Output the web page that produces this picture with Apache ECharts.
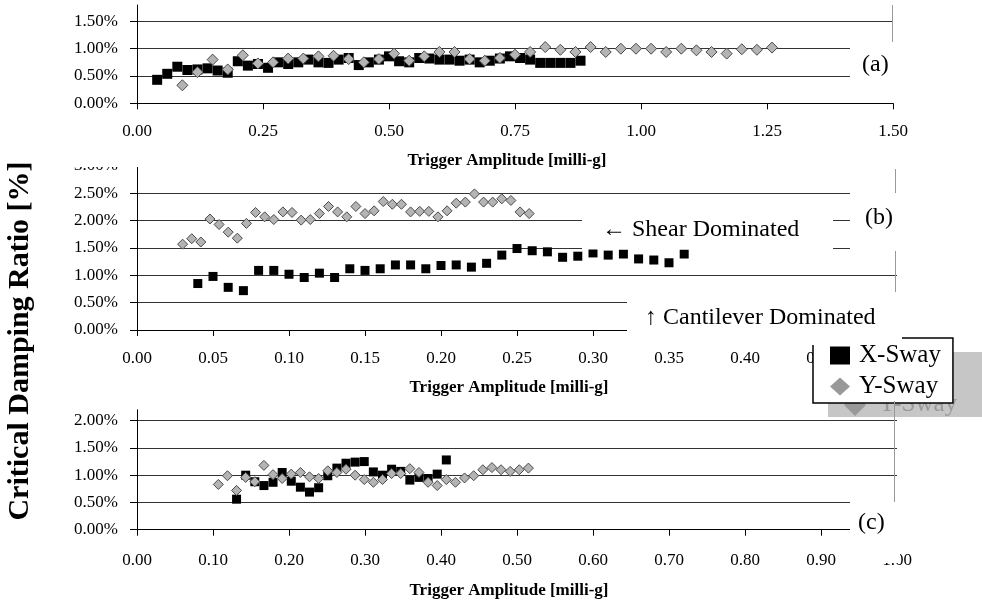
<!DOCTYPE html>
<html>
<head>
    <meta charset="utf-8">
    <title>Critical Damping Ratio</title>
    <script src="https://cdn.jsdelivr.net/npm/echarts@6/dist/echarts.min.js"></script>
    <style>
        html, body { margin: 0; padding: 0; background: #fff; }
    </style>
</head>
<body>
    <div id="main" style="width: 982px;height: 603px;"></div>
    <script type="text/javascript">
// (a) panel
var aXSwayX = [0.04,0.06,0.08,0.10,0.12,0.14,0.16,0.18,0.20,0.22,0.24,0.26,0.28,0.30,0.32,0.34,0.36,0.38,0.40,0.42,0.44,0.46,0.48,0.50,0.52,0.54,0.56,0.58,0.60,0.62,0.64,0.66,0.68,0.70,0.72,0.74,0.76,0.78,0.80,0.82,0.84,0.86,0.88];
var aXSwayY = [0.43,0.54,0.67,0.61,0.62,0.64,0.60,0.56,0.77,0.69,0.72,0.65,0.75,0.72,0.75,0.80,0.75,0.74,0.80,0.83,0.70,0.75,0.80,0.86,0.77,0.75,0.83,0.82,0.80,0.80,0.78,0.80,0.75,0.78,0.82,0.86,0.83,0.80,0.74,0.74,0.74,0.74,0.78];
var aYSwayX = [0.09,0.12,0.15,0.18,0.21,0.24,0.27,0.30,0.33,0.36,0.39,0.42,0.45,0.48,0.51,0.54,0.57,0.60,0.63,0.66,0.69,0.72,0.75,0.78,0.81,0.84,0.87,0.90,0.93,0.96,0.99,1.02,1.05,1.08,1.11,1.14,1.17,1.20,1.23,1.26];
var aYSwayY = [0.33,0.57,0.80,0.62,0.88,0.73,0.75,0.82,0.82,0.86,0.87,0.81,0.75,0.81,0.91,0.78,0.86,0.94,0.94,0.81,0.78,0.83,0.89,0.94,1.03,0.98,0.94,1.03,0.94,1.00,1.00,1.00,0.94,1.00,0.97,0.94,0.91,0.99,0.98,1.02];

// (b) panel
var bXSwayX = [0.04,0.05,0.06,0.07,0.08,0.09,0.10,0.11,0.12,0.13,0.14,0.15,0.16,0.17,0.18,0.19,0.20,0.21,0.22,0.23,0.24,0.25,0.26,0.27,0.28,0.29,0.30,0.31,0.32,0.33,0.34,0.35,0.36];
var bXSwayY = [0.85,0.98,0.78,0.72,1.09,1.09,1.02,0.96,1.04,0.96,1.12,1.09,1.12,1.19,1.19,1.12,1.18,1.19,1.15,1.22,1.37,1.49,1.45,1.43,1.33,1.35,1.41,1.37,1.39,1.30,1.28,1.23,1.39];
var bYSwayX = [0.030,0.036,0.042,0.048,0.054,0.060,0.066,0.072,0.078,0.084,0.090,0.096,0.102,0.108,0.114,0.120,0.126,0.132,0.138,0.144,0.150,0.156,0.162,0.168,0.174,0.180,0.186,0.192,0.198,0.204,0.210,0.216,0.222,0.228,0.234,0.240,0.246,0.252,0.258];
var bYSwayY = [1.57,1.67,1.61,2.03,1.93,1.79,1.68,1.95,2.15,2.07,2.02,2.16,2.15,2.01,2.02,2.13,2.26,2.16,2.07,2.26,2.13,2.18,2.35,2.30,2.30,2.16,2.17,2.17,2.07,2.18,2.32,2.34,2.49,2.34,2.34,2.40,2.37,2.16,2.13];

// (c) panel
var cXSwayX = [0.131,0.143,0.155,0.167,0.179,0.191,0.203,0.215,0.227,0.239,0.251,0.263,0.275,0.287,0.299,0.311,0.323,0.335,0.347,0.359,0.371,0.383,0.395,0.407];
var cXSwayY = [0.56,1.00,0.88,0.81,0.87,1.05,0.89,0.78,0.69,0.77,0.99,1.13,1.22,1.24,1.25,1.06,1.00,1.11,1.07,0.91,0.96,0.94,1.02,1.28];
var cYSwayX = [0.107,0.119,0.131,0.143,0.155,0.167,0.179,0.191,0.203,0.215,0.227,0.239,0.251,0.263,0.275,0.287,0.299,0.311,0.323,0.335,0.347,0.359,0.371,0.383,0.395,0.407,0.419,0.431,0.443,0.455,0.467,0.479,0.491,0.503,0.515];
var cYSwayY = [0.83,0.99,0.72,0.96,0.88,1.18,1.01,0.94,1.02,1.05,0.97,0.94,1.08,1.05,1.11,1.00,0.92,0.87,0.92,1.03,1.03,1.12,1.05,0.87,0.81,0.92,0.87,0.95,0.99,1.10,1.14,1.10,1.07,1.10,1.13];

// axis ranges
var xMax = [1.5, 0.5, 1.0];
var xStep = [0.25, 0.05, 0.1];
var yMax = [1.8, 3.0, 2.2];

var xTitle = 'Trigger Amplitude [milli-g]';
var yTitle = 'Critical Damping Ratio [%]';
var serif = "'Liberation Serif', 'Times New Roman', serif";

var myChart = echarts.init(document.getElementById('main'));

function pairs(xs, ys) {
    return xs.map(function (x, i) { return [x, ys[i]]; });
}

function xAxisFor(i, margin, gap) {
    return {
        gridIndex: i, type: 'value', min: 0, max: xMax[i], interval: xStep[i],
        axisLine: { show: true, lineStyle: { color: '#000', width: 1 } },
        axisTick: { show: true, length: 6, lineStyle: { color: '#000' } },
        axisLabel: {
            margin: margin, color: '#000', fontFamily: serif, fontSize: 17,
            formatter: function (v) { return v.toFixed(2); }
        },
        splitLine: { show: false },
        name: xTitle, nameLocation: 'middle', nameGap: gap,
        nameTextStyle: { fontFamily: serif, fontWeight: 'bold', fontSize: 17, color: '#000', padding: [0, 16, 0, 0] }
    };
}

function yAxisFor(i) {
    return {
        gridIndex: i, type: 'value', min: 0, max: yMax[i], interval: 0.5,
        axisLine: { show: true, lineStyle: { color: '#000', width: 1 } },
        axisTick: { show: true, length: 7, lineStyle: { color: '#000' } },
        axisLabel: {
            margin: 19, color: '#000', fontFamily: serif, fontSize: 17,
            showMaxLabel: i === 1,
            formatter: function (v) { return v.toFixed(2) + '%'; }
        },
        splitLine: { show: true, showMaxLine: false, lineStyle: { color: '#333', width: 1 } }
    };
}

function xSway(i, data, size) {
    return {
        name: 'X-Sway', type: 'scatter', xAxisIndex: i, yAxisIndex: i,
        symbol: 'rect', symbolSize: size, data: data,
        itemStyle: { color: '#000', opacity: 1 }
    };
}

function ySway(i, data, size) {
    return {
        name: 'Y-Sway', type: 'scatter', xAxisIndex: i, yAxisIndex: i,
        symbol: 'diamond', symbolSize: size, data: data,
        itemStyle: { color: '#b4b4b4', borderColor: '#4a4a4a', borderWidth: 1, opacity: 1 }
    };
}

function whiteBox(x, y, w, h) {
    return { type: 'rect', z: 100, shape: { x: x, y: y, width: w, height: h }, style: { fill: '#fff' } };
}
function grayLine(x, y1, y2) {
    return { type: 'line', z: 101, shape: { x1: x, y1: y1, x2: x, y2: y2 }, style: { stroke: '#999', lineWidth: 1 } };
}
function label(text, x, y, size) {
    return { type: 'text', z: 102, x: x, y: y,
        style: { text: text, fill: '#000', font: size + 'px ' + serif, verticalAlign: 'middle' } };
}

myChart.setOption({
    animation: false,
    backgroundColor: '#fff',
    grid: [
        { left: 137, top: 5, width: 756, height: 98.3 },
        { left: 137, top: 166, width: 760, height: 164 },
        { left: 137, top: 409.8, width: 760, height: 119.9 }
    ],
    xAxis: [xAxisFor(0, 20, 49), xAxisFor(1, 20, 49), xAxisFor(2, 22, 52)],
    yAxis: [yAxisFor(0), yAxisFor(1), yAxisFor(2)],
    legend: {
        orient: 'vertical', left: 813, top: 338,
        width: 154, padding: [5, 12, 4, 17], itemGap: 6,
        itemWidth: 20, itemHeight: 18,
        backgroundColor: '#fff', borderColor: '#000', borderWidth: 1.5, borderRadius: 0,
        textStyle: { fontFamily: serif, fontSize: 25, color: '#000', padding: [0, 0, 0, 4] },
        data: [
            { name: 'X-Sway', icon: 'rect', itemStyle: { color: '#000', borderWidth: 0 } },
            { name: 'Y-Sway', icon: 'diamond', itemStyle: { color: '#999', borderWidth: 0 } }
        ]
    },
    graphic: [
        // y axis title
        { type: 'text', z: 102, x: 20, y: 341, rotation: Math.PI / 2,
          style: { text: yTitle, fill: '#000', font: 'bold 30px ' + serif, align: 'center', verticalAlign: 'middle' } },
        // (a)
        whiteBox(850, 42, 50, 59),
        grayLine(892.5, 5, 42),
        label('(a)', 862, 65, 24),
        // top of (b) cut off
        whiteBox(40, 146, 101, 21),
        // (b)
        whiteBox(582, 205, 251, 44.5),
        label('\u2190 Shear Dominated', 602, 230, 24),
        whiteBox(850, 188, 50, 85),
        grayLine(895.5, 169, 193),
        grayLine(895.5, 251, 292),
        label('(b)', 865, 218, 24),
        whiteBox(627, 293, 275, 52),
        label('\u2191 Cantilever Dominated', 645, 318, 24),
        // (c)
        whiteBox(850, 495, 50, 68),
        grayLine(894.5, 401, 502),
        label('(c)', 858, 523, 24),
        // legend shadow with ghost text
        { type: 'rect', z: 3, shape: { x: 828, y: 352, width: 154, height: 65 }, style: { fill: '#c6c6c6' } },
        { type: 'polygon', z: 3, shape: { points: [[855, 394], [866, 405], [855, 416], [844, 405]] }, style: { fill: '#999' } },
        { type: 'text', z: 3, x: 878, y: 404,
          style: { text: 'Y-Sway', fill: '#999', font: '25px ' + serif, verticalAlign: 'middle' } }
    ],
    series: [
        xSway(0, pairs(aXSwayX, aXSwayY), 10),
        ySway(0, pairs(aYSwayX, aYSwayY), 11),
        xSway(1, pairs(bXSwayX, bXSwayY), 9),
        ySway(1, pairs(bYSwayX, bYSwayY), 10),
        xSway(2, pairs(cXSwayX, cXSwayY), 9),
        ySway(2, pairs(cYSwayX, cYSwayY), 10)
    ]
});
    </script>
</body>
</html>
